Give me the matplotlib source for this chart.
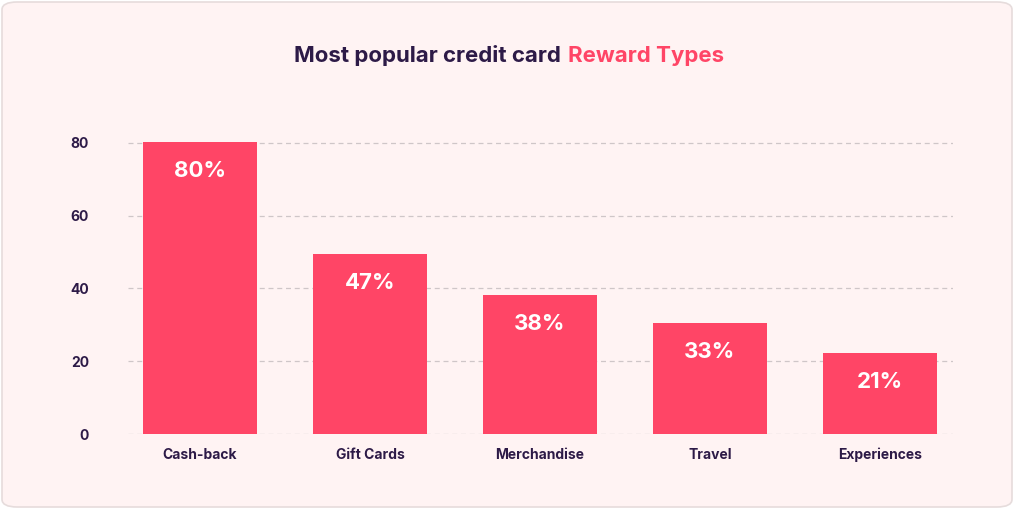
import matplotlib
matplotlib.use("Agg")
import matplotlib.pyplot as plt
from matplotlib.patches import FancyBboxPatch

categories = ["Cash-back", "Gift Cards", "Merchandise", "Travel", "Experiences"]
values = [80.2, 49.5, 38.2, 30.5, 22.3]
labels = ["80%", "47%", "38%", "33%", "21%"]
yticks = [0, 20, 40, 60, 80]

plt.rcParams['font.family'] = ['Inter', 'DejaVu Sans']
W, H = 1014, 509
fig = plt.figure(figsize=(W/100, H/100), dpi=100)
fig.patch.set_facecolor("white")
card = FancyBboxPatch((2/W, 2/H), (W-4)/W, (H-4)/H, boxstyle="round,pad=0,rounding_size=0.015",
                      transform=fig.transFigure, facecolor="#FFF3F3", edgecolor="#E6DCDC", lw=1.2, zorder=-10)
fig.patches.append(card)

ax = fig.add_axes([128/W, 1-434/H, (953-128)/W, (434-140)/H])
ax.set_facecolor("none")
x = list(range(len(categories)))
bars = ax.bar(x, values, width=0.67, color="#FF4566", zorder=3)
for b, lab in zip(bars, labels):
    ax.text(b.get_x()+b.get_width()/2, b.get_height()-8, lab, ha="center", va="center",
            color="white", fontsize=16, fontweight="bold", zorder=4)
ax.set_xlim(-0.424, 4.43)
ax.set_ylim(0, 80.8)
ax.set_yticks(yticks)
ax.set_yticklabels([str(t) for t in yticks], fontsize=10, fontweight="bold", color="#2D1A47")
ax.set_xticks(x)
ax.set_xticklabels(categories, fontsize=10, fontweight="bold", color="#2D1A47")
ax.tick_params(length=0)
ax.tick_params(axis="y", pad=28)
ax.tick_params(axis="x", pad=10)
ax.grid(axis="y", color="#CFC6C8", linestyle=(0, (4, 3)), lw=0.9, zorder=0)
for s in ax.spines.values():
    s.set_visible(False)

fig.text(0.25+0.0, 1-56/H, "Most popular credit card ", ha="left", va="center",
         fontsize=16, fontweight="bold", color="#2D1A47")
fig.text(568/W, 1-56/H, "Reward Types", ha="left", va="center",
         fontsize=16, fontweight="bold", color="#FF4566")
fig.texts[0].set_x(294/W)
fig.savefig("out.png", dpi=100)
